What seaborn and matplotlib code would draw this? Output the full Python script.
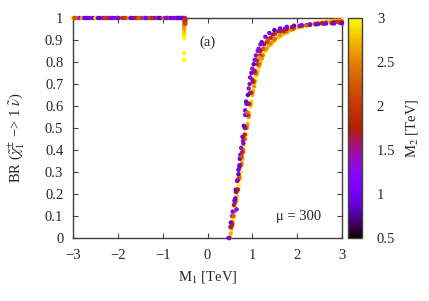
import numpy as np
import pandas as pd
import matplotlib
matplotlib.use("Agg")
import matplotlib.pyplot as plt
import seaborn as sns

# ---------------- data ----------------
# plateau at BR = 1 for negative M1
plateau_m1 = [-3.0, -2.95, -2.9, -2.85, -2.8, -2.75, -2.7, -2.62, -2.55, -2.48, -2.4, -2.33,
              -2.25, -2.18, -2.1, -2.03, -1.95, -1.88, -1.8, -1.72, -1.65, -1.58, -1.5, -1.43,
              -1.35, -1.28, -1.2, -1.13, -1.05, -0.98, -0.9, -0.83, -0.75, -0.68, -0.62, -0.57,
              -0.53, -0.5, -2.5, -2.0, -1.6, -1.1, -0.7, -2.2, -1.4, -0.9, -0.6,
              -2.97, -2.66, -2.44, -2.29, -2.14, -1.99, -1.84, -1.69, -1.54, -1.39, -1.24,
              -1.09, -0.94, -0.79, -0.66, -0.55]
plateau_br = [1.0] * 63
plateau_m2 = [2.9, 1.6, 2.4, 1.3, 2.7, 1.0, 0.9, 1.1, 0.9, 1.2, 0.8, 1.0,
              2.0, 1.9, 1.0, 0.9, 2.3, 1.8, 2.6, 1.1, 2.0, 2.2, 1.9, 1.0,
              1.1, 2.1, 0.9, 1.0, 0.8, 2.5, 1.0, 0.9, 1.1, 0.9, 1.0, 2.4,
              1.0, 2.0, 2.8, 2.1, 1.7, 2.6, 1.2, 1.5, 2.9, 1.9, 0.9,
              2.2, 1.0, 0.9, 2.0, 1.1, 1.0, 2.1, 0.9, 2.3, 1.0, 1.9,
              0.8, 1.1, 1.0, 0.9, 1.0]

# drop near M1 = -0.5
drop_m1 = [-0.52, -0.52, -0.51, -0.52, -0.52, -0.52, -0.52, -0.52, -0.52, -0.52, -0.52, -0.49, -0.49]
drop_br = [0.99, 0.985, 0.975, 0.965, 0.955, 0.945, 0.93, 0.92, 0.91, 0.84, 0.81, 0.99, 0.975]
drop_m2 = [2.0, 2.2, 1.9, 2.4, 2.6, 2.7, 2.8, 2.9, 3.0, 3.0, 3.0, 1.9, 2.1]

# rising branch, M2 ~ 2.9 (yellow edge)
yel_m1 = [0.50, 0.54, 0.58, 0.62, 0.66, 0.70, 0.74, 0.78, 0.82, 0.86, 0.90, 0.94, 0.98, 1.02,
          1.07, 1.12, 1.18, 1.25, 1.33, 1.42, 1.52, 1.64, 1.78, 1.94, 2.12, 2.30, 2.48, 2.66,
          2.84, 3.00]
yel_br = [0.00, 0.04, 0.09, 0.14, 0.19, 0.24, 0.30, 0.36, 0.42, 0.47, 0.52, 0.57, 0.62, 0.67,
          0.72, 0.76, 0.80, 0.83, 0.86, 0.88, 0.90, 0.918, 0.935, 0.950, 0.962, 0.972, 0.979,
          0.984, 0.988, 0.991]
yel_m2 = [2.9, 2.8, 3.0, 2.9, 2.8, 3.0, 2.9, 2.7, 3.0, 2.9, 2.8, 3.0, 2.9, 2.8,
          3.0, 2.9, 2.8, 3.0, 2.9, 2.8, 3.0, 2.9, 2.8, 3.0, 2.9, 2.8, 3.0, 2.9,
          2.8, 3.0]

# rising branch, M2 ~ 2.7 (yellow-orange, in between samples)
yo_m1 = [0.52, 0.56, 0.60, 0.64, 0.68, 0.72, 0.76, 0.80, 0.84, 0.88, 0.92, 0.96, 1.00, 1.04,
         1.09, 1.15, 1.21, 1.29, 1.37, 1.47, 1.58, 1.71, 1.86, 2.03, 2.21, 2.39, 2.57, 2.75, 2.92]
yo_br = [0.02, 0.07, 0.12, 0.17, 0.22, 0.27, 0.33, 0.39, 0.45, 0.50, 0.55, 0.60, 0.65, 0.69,
         0.74, 0.78, 0.815, 0.85, 0.875, 0.895, 0.913, 0.93, 0.945, 0.957, 0.967, 0.975, 0.981,
         0.986, 0.989]
yo_m2 = [2.7, 2.6, 2.8, 2.7, 2.6, 2.8, 2.7, 2.6, 2.8, 2.7, 2.6, 2.8, 2.7, 2.6,
         2.8, 2.7, 2.6, 2.8, 2.7, 2.6, 2.8, 2.7, 2.6, 2.8, 2.7, 2.6, 2.8, 2.7, 2.6]

# rising branch, M2 ~ 2.5 (orange)
ora_m1 = [0.49, 0.55, 0.60, 0.64, 0.68, 0.72, 0.76, 0.80, 0.84, 0.88, 0.92, 0.96, 1.00, 1.05,
          1.10, 1.16, 1.23, 1.31, 1.40, 1.50, 1.62, 1.76, 1.92, 2.10, 2.28, 2.46, 2.64, 2.82, 2.98]
ora_br = [0.00, 0.07, 0.12, 0.17, 0.22, 0.28, 0.34, 0.40, 0.45, 0.51, 0.56, 0.61, 0.66, 0.71,
          0.75, 0.79, 0.83, 0.86, 0.885, 0.905, 0.922, 0.938, 0.951, 0.961, 0.969, 0.975, 0.980,
          0.983, 0.986]
ora_m2 = [2.5, 2.4, 2.6, 2.5, 2.4, 2.6, 2.5, 2.4, 2.6, 2.5, 2.4, 2.6, 2.5, 2.4,
          2.6, 2.5, 2.4, 2.6, 2.5, 2.4, 2.6, 2.5, 2.4, 2.6, 2.5, 2.4, 2.6, 2.5, 2.4]

# rising branch, M2 ~ 2.0 (red)
red_m1 = [0.49, 0.53, 0.57, 0.61, 0.65, 0.69, 0.73, 0.77, 0.81, 0.85, 0.89, 0.93, 0.97, 1.01,
          1.06, 1.11, 1.17, 1.24, 1.32, 1.41, 1.51, 1.63, 1.77, 1.93, 2.11, 2.29, 2.47, 2.65,
          2.83, 3.00]
red_br = [0.00, 0.05, 0.10, 0.16, 0.21, 0.27, 0.33, 0.39, 0.45, 0.50, 0.56, 0.61, 0.66, 0.71,
          0.75, 0.79, 0.83, 0.86, 0.89, 0.91, 0.928, 0.94, 0.95, 0.958, 0.965, 0.97, 0.974,
          0.978, 0.981, 0.983]
red_m2 = [2.0, 1.9, 2.1, 2.0, 1.8, 2.1, 2.0, 1.9, 2.2, 2.0, 1.9, 2.1, 2.0, 1.8,
          2.1, 2.0, 1.9, 2.2, 2.0, 1.9, 2.1, 2.0, 1.8, 2.1, 2.0, 1.9, 2.2, 2.0,
          1.9, 2.1]

# rising branch, M2 ~ 1.5 (magenta)
mag_m1 = [0.51, 0.55, 0.59, 0.63, 0.67, 0.71, 0.75, 0.79, 0.83, 0.87, 0.91, 0.95, 1.00, 1.05,
          1.11, 1.18, 1.26, 1.35, 1.46, 1.58, 1.72, 1.88, 2.05, 2.23, 2.41, 2.59, 2.77, 2.95]
mag_br = [0.05, 0.10, 0.15, 0.21, 0.26, 0.32, 0.38, 0.44, 0.50, 0.56, 0.61, 0.66, 0.72, 0.76,
          0.81, 0.85, 0.88, 0.905, 0.925, 0.94, 0.95, 0.958, 0.964, 0.968, 0.971, 0.974, 0.976,
          0.978]
mag_m2 = [1.5, 1.4, 1.6, 1.5, 1.7, 1.4, 1.5, 1.6, 1.5, 1.4, 1.7, 1.5, 1.6, 1.4,
          1.5, 1.7, 1.5, 1.4, 1.6, 1.5, 1.4, 1.7, 1.5, 1.6, 1.4, 1.5, 1.7, 1.5]

# rising branch, M2 ~ 1.0 (purple edge)
pur_m1 = [0.47, 0.52, 0.56, 0.60, 0.63, 0.66, 0.69, 0.72, 0.75, 0.78, 0.81, 0.84, 0.87, 0.90,
          0.94, 0.98, 1.03, 1.08, 1.14, 1.21, 1.29, 1.38, 1.49, 1.62, 1.77, 1.93, 2.10, 2.28,
          2.46, 2.64, 2.82, 3.00]
pur_br = [0.00, 0.07, 0.12, 0.17, 0.22, 0.26, 0.31, 0.36, 0.41, 0.46, 0.51, 0.56, 0.61, 0.65,
          0.70, 0.75, 0.79, 0.83, 0.86, 0.89, 0.915, 0.932, 0.945, 0.953, 0.960, 0.965, 0.968,
          0.970, 0.972, 0.974, 0.975, 0.976]
pur_m2 = [1.0, 0.9, 1.1, 1.0, 0.8, 1.1, 1.0, 0.9, 1.2, 1.0, 0.9, 1.1, 1.0, 0.8,
          1.1, 1.0, 0.9, 1.2, 1.0, 0.9, 1.1, 1.0, 0.8, 1.1, 1.0, 0.9, 1.2, 1.0,
          0.9, 1.1, 1.0, 0.9]

# scattered outliers
out_m1 = [0.62, 0.65, 0.69, 0.71, 0.73, 0.80, 0.84, 0.86, 0.92, 0.95, 1.00, 1.05, 1.12, 1.18,
          0.55, 0.58, 0.67, 0.76, 0.83, 0.89, 1.15, 1.35, 1.70, 2.20, 2.55, 2.90]
out_br = [0.18, 0.13, 0.29, 0.33, 0.377, 0.43, 0.58, 0.62, 0.68, 0.73, 0.77, 0.81, 0.85, 0.88,
          0.06, 0.10, 0.22, 0.37, 0.47, 0.57, 0.82, 0.90, 0.94, 0.967, 0.976, 0.982]
out_m2 = [1.0, 1.1, 0.9, 1.0, 1.2, 1.0, 1.1, 0.9, 1.5, 1.3, 1.6, 1.4, 1.5, 1.3,
          1.7, 2.3, 1.6, 2.2, 1.8, 2.4, 2.6, 2.2, 1.8, 2.3, 1.7, 2.0]

groups = [
    (plateau_m1, plateau_br, plateau_m2),
    (drop_m1, drop_br, drop_m2),
    (yel_m1, yel_br, yel_m2),
    (yo_m1, yo_br, yo_m2),
    (ora_m1, ora_br, ora_m2),
    (red_m1, red_br, red_m2),
    (mag_m1, mag_br, mag_m2),
    (pur_m1, pur_br, pur_m2),
    (out_m1, out_br, out_m2),
]
df = pd.concat([pd.DataFrame({"M1": a, "BR": b, "M2": c}) for a, b, c in groups],
               ignore_index=True)

x_ticks = [-3, -2, -1, 0, 1, 2, 3]
y_ticks = [0, 0.1, 0.2, 0.3, 0.4, 0.5, 0.6, 0.7, 0.8, 0.9, 1.0]
y_ticklabels = ["0", "0.1", "0.2", "0.3", "0.4", "0.5", "0.6", "0.7", "0.8", "0.9", "1"]
cb_ticks = [0.5, 1, 1.5, 2, 2.5, 3]
cb_ticklabels = ["0.5", "1", "1.5", "2", "2.5", "3"]

# ---------------- plot ----------------
sns.set_style("ticks")
plt.rcParams["font.family"] = ["Liberation Serif", "DejaVu Serif"]
plt.rcParams["mathtext.fontset"] = "stix"
FS = 10.5
plt.rcParams["font.size"] = FS

W, H = 429, 301
fig = plt.figure(figsize=(W / 100, H / 100), dpi=100)
ax = fig.add_axes([73 / W, (H - 238) / H, (342 - 73) / W, 220 / H])
cax = fig.add_axes([347.5 / W, (H - 238) / H, 14 / W, 220 / H])

norm = matplotlib.colors.Normalize(vmin=0.5, vmax=3)
cmap = plt.get_cmap("gnuplot")

sns.scatterplot(data=df, x="M1", y="BR", hue="M2", palette=cmap, hue_norm=norm,
                s=10, linewidth=0, legend=False, ax=ax, clip_on=False, zorder=3)

ax.set_xlim(-3, 3)
ax.set_ylim(0, 1)
ax.set_xticks(x_ticks)
ax.set_yticks(y_ticks)
ax.set_yticklabels(y_ticklabels)
edge = "#404040"
for sp in ax.spines.values():
    sp.set_color(edge)
    sp.set_linewidth(1.0)
    sp.set_visible(True)
    sp.set_zorder(1)
ax.tick_params(direction="in", top=True, right=True, length=3.5, width=0.8,
               color=edge, labelsize=FS)
ax.tick_params(axis="x", pad=8)
ax.tick_params(axis="y", pad=7)
ax.set_xlabel("M$_1$ [TeV]", fontsize=FS, labelpad=5)
ax.set_ylabel(r"BR ($\tilde{\chi}_1^{\pm}$ −> 1 $\tilde{\nu}$)", fontsize=FS)
ax.yaxis.set_label_coords(-0.17, 0.455)
ax.text(0.0, 0.89, "(a)", ha="center", va="center", fontsize=FS)
ax.text(2.03, 0.097, "μ = 300", ha="center", va="center", fontsize=FS)

sm = matplotlib.cm.ScalarMappable(norm=norm, cmap=cmap)
sm.set_array([])
cb = fig.colorbar(sm, cax=cax)
cb.set_ticks(cb_ticks)
cb.set_ticklabels(cb_ticklabels)
cb.outline.set_edgecolor(edge)
cb.outline.set_linewidth(1.0)
cax.tick_params(direction="in", length=3.5, width=0.8, color=edge, labelsize=FS, pad=11)
cb.set_label("M$_2$ [TeV]", fontsize=FS, labelpad=6)

fig.savefig("out.png", dpi=100)
